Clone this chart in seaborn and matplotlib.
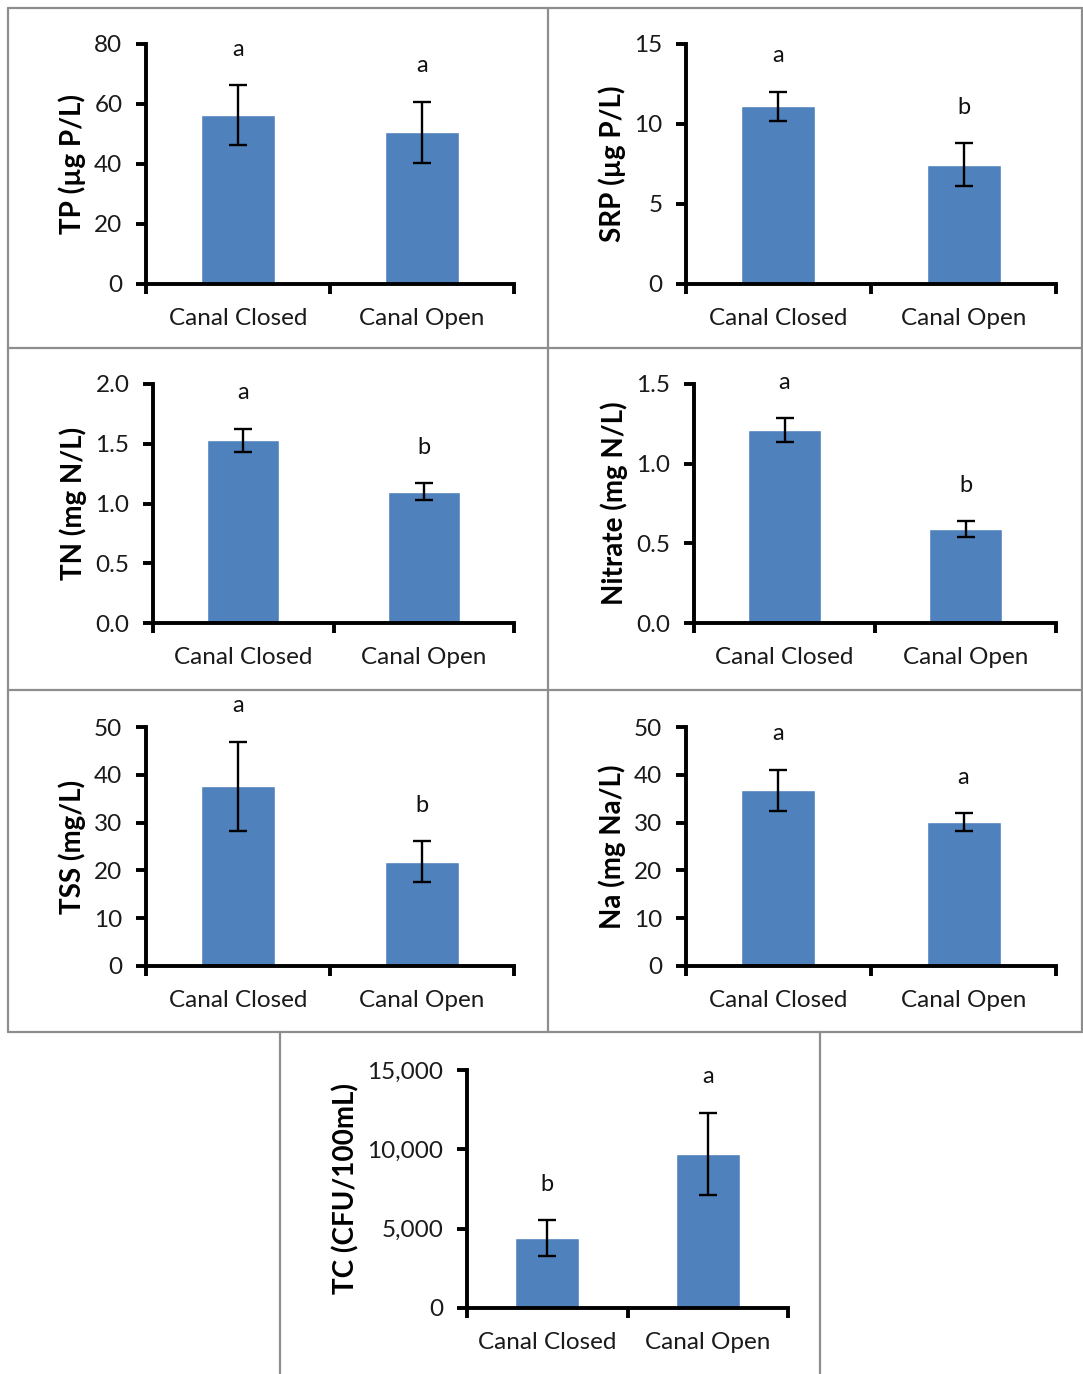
import numpy as np
import pandas as pd
import matplotlib
matplotlib.use("Agg")
import matplotlib.pyplot as plt
import seaborn as sns
from matplotlib.ticker import FixedLocator, FuncFormatter, NullFormatter
from matplotlib.lines import Line2D

# ---- data -------------------------------------------------------------
conditions = ["Canal Closed", "Canal Open"]

tp_mean = [56.2, 50.6]
tp_se = [10.0, 10.2]
tp_letters = ["a", "a"]

srp_mean = [11.1, 7.45]
srp_se = [0.92, 1.35]
srp_letters = ["a", "b"]

tn_mean = [1.53, 1.10]
tn_se = [0.095, 0.072]
tn_letters = ["a", "b"]

nitrate_mean = [1.21, 0.59]
nitrate_se = [0.075, 0.048]
nitrate_letters = ["a", "b"]

tss_mean = [37.6, 21.8]
tss_se = [9.3, 4.3]
tss_letters = ["a", "b"]

na_mean = [36.8, 30.1]
na_se = [4.3, 1.9]
na_letters = ["a", "a"]

tc_mean = [4400, 9720]
tc_se = [1150, 2600]
tc_letters = ["b", "a"]

# ---- style ------------------------------------------------------------
sns.set_theme(style="white")
plt.rcParams["font.family"] = ["Lato", "DejaVu Sans"]

BAR = "#4F81BD"
W, H = 1083, 1374
fig = plt.figure(figsize=(W / 100, H / 100), dpi=100)
fig.patch.set_facecolor("white")


def px_axes(x0, y0, x1, y1):
    return fig.add_axes([x0 / W, 1 - y1 / H, (x1 - x0) / W, (y1 - y0) / H])


def draw_panel(ax, means, ses, letters, ylabel, ymax, step, fmt):
    df = pd.DataFrame({"condition": conditions, "value": means})
    sns.barplot(data=df, x="condition", y="value", ax=ax, color=BAR,
                width=0.4, errorbar=None, saturation=1, zorder=2)
    pos = np.arange(len(means))
    ax.errorbar(pos, means, yerr=ses, fmt="none", ecolor="black",
                elinewidth=1.7, capsize=6.5, capthick=1.7, zorder=3)
    tops = np.asarray(means) + np.asarray(ses)
    for p, t, lab in zip(pos, tops, letters):
        ax.text(p, t + 0.15 * ymax, lab, ha="center", va="center",
                fontsize=17, color="#111111", clip_on=False)

    ax.set_xlim(-0.5, 1.5)
    ax.set_ylim(0, ymax)
    ax.set_facecolor("white")
    for s in ("top", "right"):
        ax.spines[s].set_visible(False)
    for s in ("left", "bottom"):
        ax.spines[s].set_color("black")
        ax.spines[s].set_linewidth(2.8)
        ax.spines[s].set_zorder(4)

    ax.xaxis.set_major_locator(FixedLocator([-0.5, 0.5, 1.5]))
    ax.xaxis.set_major_formatter(NullFormatter())
    ax.set_xticks(pos, minor=True)
    ax.set_xticklabels(conditions, minor=True)
    ax.tick_params(axis="x", which="major", direction="out", length=7,
                   width=2.8, color="black", bottom=True)
    ax.tick_params(axis="x", which="minor", length=0, pad=17,
                   labelsize=17.5, labelcolor="#1a1a1a")

    ax.set_yticks(np.arange(0, ymax + step / 2, step))
    ax.yaxis.set_major_formatter(FuncFormatter(fmt))
    ax.tick_params(axis="y", direction="out", length=7, width=2.8,
                   color="black", left=True, pad=10, labelsize=17.5,
                   labelcolor="#1a1a1a")

    ax.set_xlabel("")
    ax.set_ylabel(ylabel, fontsize=20, fontweight="bold", labelpad=6,
                  color="black")
    ax.grid(False)


int_fmt = lambda v, _: f"{v:.0f}"
one_dec = lambda v, _: f"{v:.1f}"
comma_fmt = lambda v, _: f"{v:,.0f}"

panels = [
    ((146, 44, 514, 284), tp_mean, tp_se, tp_letters, "TP (µg P/L)", 80, 20, int_fmt),
    ((686, 44, 1056, 284), srp_mean, srp_se, srp_letters, "SRP (µg P/L)", 15, 5, int_fmt),
    ((153, 384, 514, 623), tn_mean, tn_se, tn_letters, "TN (mg N/L)", 2.0, 0.5, one_dec),
    ((694, 384, 1056, 623), nitrate_mean, nitrate_se, nitrate_letters, "Nitrate (mg N/L)", 1.5, 0.5, one_dec),
    ((146, 727, 514, 966), tss_mean, tss_se, tss_letters, "TSS (mg/L)", 50, 10, int_fmt),
    ((686, 727, 1056, 966), na_mean, na_se, na_letters, "Na (mg Na/L)", 50, 10, int_fmt),
    ((467, 1070, 788, 1308), tc_mean, tc_se, tc_letters, "TC (CFU/100mL)", 15000, 5000, comma_fmt),
]

for rect, m, se, let, lab, ymax, step, fmt in panels:
    ax = px_axes(*rect)
    draw_panel(ax, m, se, let, lab, ymax, step, fmt)

# ---- panel frames -----------------------------------------------------
FRAME = "#8e8e8e"


def fline(x0, y0, x1, y1):
    fig.add_artist(Line2D([x0 / W, x1 / W], [1 - y0 / H, 1 - y1 / H],
                          transform=fig.transFigure, color=FRAME,
                          linewidth=1.6, zorder=0))


fline(8, 8, 1082, 8)
fline(8, 8, 8, 1032)
fline(1082, 8, 1082, 1032)
fline(8, 1032, 1082, 1032)
fline(548, 8, 548, 1032)
fline(8, 348, 1082, 348)
fline(8, 690, 1082, 690)
fline(280, 1032, 280, 1374)
fline(820, 1032, 820, 1374)

fig.savefig("out.png", dpi=100, facecolor="white")
